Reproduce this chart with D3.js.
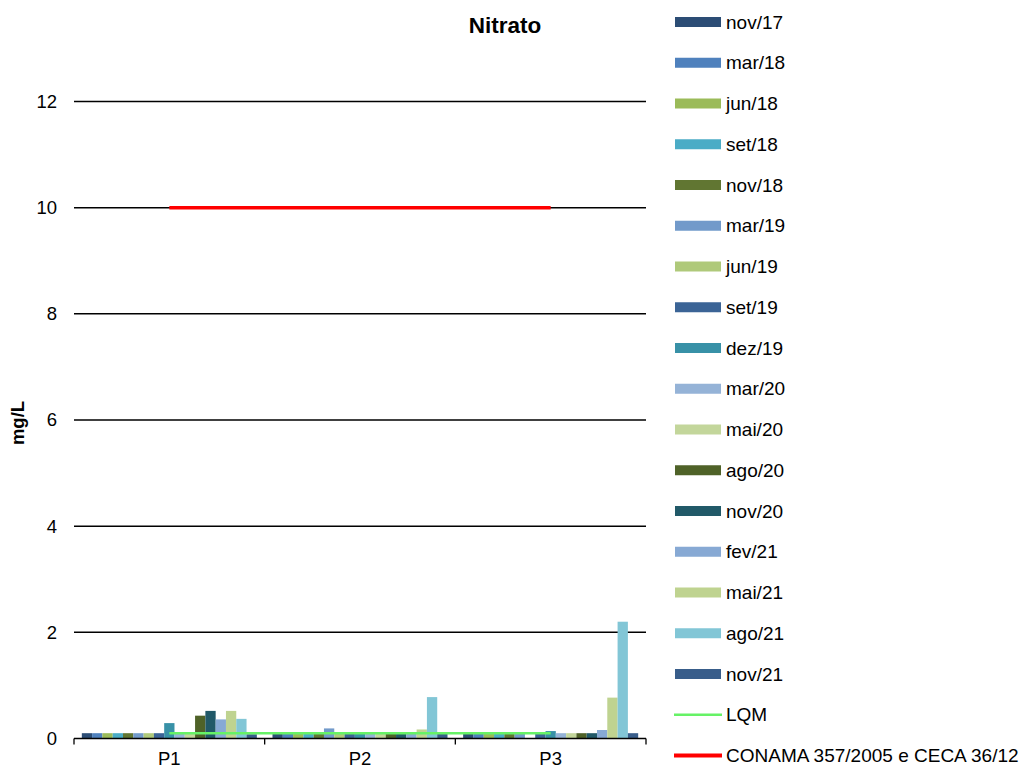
<!DOCTYPE html>
<html>
<head>
<meta charset="utf-8">
<script src="https://cdn.jsdelivr.net/npm/d3@7"></script>
<style>
  body { margin: 0; background: #fff; }
  svg { display: block; font-family: "Liberation Sans", Arial, sans-serif; }
</style>
</head>
<body>
<div id="chart"></div>
<script>
// dados do gráfico
const pontos = ["P1", "P2", "P3"];
const campanhas = ["nov/17", "mar/18", "jun/18", "set/18", "nov/18", "mar/19", "jun/19", "set/19",
  "dez/19", "mar/20", "mai/20", "ago/20", "nov/20", "fev/21", "mai/21", "ago/21", "nov/21"];
const cores = ["#2C4D75", "#4F81BD", "#9BBB59", "#4BACC6", "#617632", "#729ACA", "#AFC97A", "#3B6496",
  "#3891A7", "#95B3D7", "#C3D69B", "#4F6228", "#215968", "#87A9D4", "#BFD390", "#82C6D6", "#385D8A"];
const valoresP1 = [0.1, 0.1, 0.1, 0.1, 0.1, 0.1, 0.1, 0.1, 0.29, 0.1, 0.1, 0.43, 0.52, 0.36, 0.52, 0.37, 0.08];
const valoresP2 = [0.1, 0.1, 0.1, 0.1, 0.1, 0.19, 0.1, 0.1, 0.1, 0.1, 0.1, 0.1, 0.1, 0.1, 0.17, 0.78, 0.1];
const valoresP3 = [0.1, 0.1, 0.1, 0.1, 0.1, 0.1, null, 0.1, 0.14, 0.1, 0.1, 0.1, 0.1, 0.16, 0.77, 2.2, 0.1];
const yTicks = [0, 2, 4, 6, 8, 10, 12];
const lqm = 0.1;
const conama = 10;

const valores = [valoresP1, valoresP2, valoresP3];

const W = 1027, H = 769;
const svg = d3.select("#chart").append("svg").attr("width", W).attr("height", H);

const x0 = d3.scaleBand().domain(pontos).range([74, 646]).padding(0);
const x1 = d3.scaleBand().domain(campanhas).range([0, x0.bandwidth()]).paddingInner(0).paddingOuter(0.76);
const y = d3.scaleLinear().domain([0, 12]).range([738.5, 101.5]);

// linhas de grade
svg.append("g").selectAll("line")
  .data(yTicks.filter(d => d > 0))
  .join("line")
  .attr("x1", 74).attr("x2", 646)
  .attr("y1", d => y(d)).attr("y2", d => y(d))
  .attr("stroke", "#000").attr("stroke-width", 1.5);

// rótulos do eixo y
svg.append("g").selectAll("text")
  .data(yTicks)
  .join("text")
  .attr("x", 57).attr("y", d => y(d))
  .attr("dy", "0.35em")
  .attr("text-anchor", "end")
  .style("font-size", "18.5px")
  .text(d => d);

// barras
pontos.forEach((p, i) => {
  svg.append("g")
    .attr("transform", `translate(${x0(p)},0)`)
    .selectAll("rect")
    .data(campanhas.map((c, j) => ({ c, j, v: valores[i][j] })).filter(d => d.v != null))
    .join("rect")
    .attr("x", d => x1(d.c))
    .attr("y", d => y(d.v))
    .attr("width", x1.bandwidth())
    .attr("height", d => y(0) - y(d.v))
    .attr("fill", d => cores[d.j]);
});

// eixo x
const xAxis = svg.append("g");
xAxis.append("line")
  .attr("x1", 74).attr("x2", 646).attr("y1", y(0)).attr("y2", y(0))
  .attr("stroke", "#000").attr("stroke-width", 1.3);
xAxis.selectAll("line.tick")
  .data([74, 74 + x0.bandwidth(), 74 + 2 * x0.bandwidth(), 646])
  .join("line").attr("class", "tick")
  .attr("x1", d => d).attr("x2", d => d)
  .attr("y1", y(0)).attr("y2", y(0) + 6)
  .attr("stroke", "#000").attr("stroke-width", 1.3);
xAxis.selectAll("text")
  .data(pontos)
  .join("text")
  .attr("x", d => x0(d) + x0.bandwidth() / 2)
  .attr("y", 765)
  .attr("text-anchor", "middle")
  .style("font-size", "18.5px")
  .text(d => d);

// linhas de referência (do centro de P1 ao centro de P3)
const xa = x0("P1") + x0.bandwidth() / 2;
const xb = x0("P3") + x0.bandwidth() / 2;
svg.append("line")
  .attr("x1", xa).attr("x2", xb).attr("y1", y(lqm)).attr("y2", y(lqm))
  .attr("stroke", "#66F266").attr("stroke-width", 2.5);
svg.append("line")
  .attr("x1", xa).attr("x2", xb).attr("y1", y(conama)).attr("y2", y(conama))
  .attr("stroke", "#FF0000").attr("stroke-width", 3.5);

// título
svg.append("text")
  .attr("x", 505).attr("y", 33)
  .attr("text-anchor", "middle")
  .style("font-size", "22.5px").style("font-weight", "bold")
  .text("Nitrato");

// rótulo do eixo y
svg.append("text")
  .attr("transform", "translate(24,423) rotate(-90)")
  .attr("text-anchor", "middle")
  .style("font-size", "18.5px").style("font-weight", "bold")
  .text("mg/L");

// legenda
const legenda = svg.append("g");
const passo = 40.75;
campanhas.forEach((c, i) => {
  const cy = 22 + passo * i;
  legenda.append("rect")
    .attr("x", 675).attr("y", cy - 5).attr("width", 46).attr("height", 10)
    .attr("fill", cores[i]);
  legenda.append("text")
    .attr("x", 726).attr("y", cy + 6.5)
    .style("font-size", "19px")
    .text(c);
});
const extras = [
  { nome: "LQM", cor: "#66F266", w: 2.5 },
  { nome: "CONAMA 357/2005 e CECA 36/12", cor: "#FF0000", w: 4 }
];
extras.forEach((e, k) => {
  const cy = 22 + passo * (campanhas.length + k);
  legenda.append("line")
    .attr("x1", 674).attr("x2", 722).attr("y1", cy).attr("y2", cy)
    .attr("stroke", e.cor).attr("stroke-width", e.w);
  legenda.append("text")
    .attr("x", 726).attr("y", cy + 6.5)
    .style("font-size", "19px")
    .text(e.nome);
});
</script>
</body>
</html>
